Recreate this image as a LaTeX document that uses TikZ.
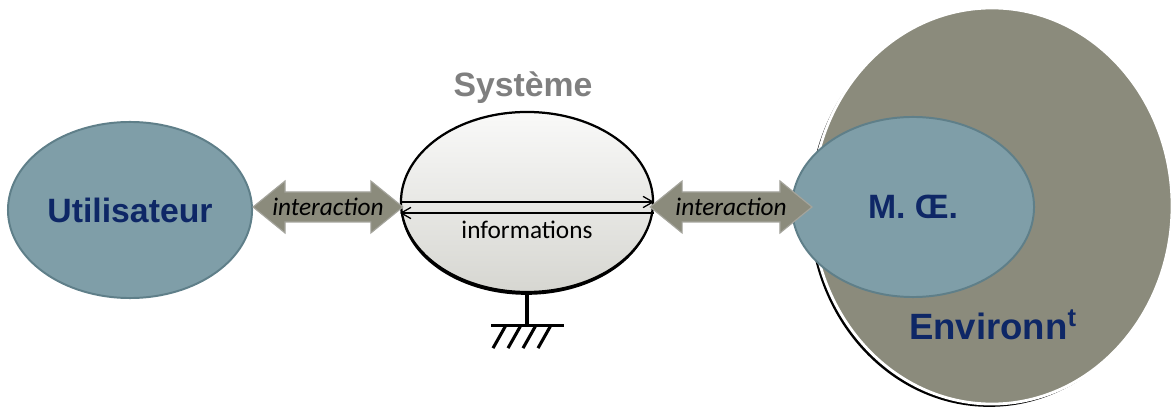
\documentclass[tikz,border=0pt]{standalone}
\usepackage{fontspec}
\setmainfont{Liberation Sans}
\newfontfamily\calibri{Carlito}
\usetikzlibrary{shapes.geometric, arrows.meta, shadows, calc, positioning}
\definecolor{bleuO}{HTML}{7F9EA8}
\definecolor{bordO}{HTML}{5F7F89}
\definecolor{marine}{HTML}{0E2766}
\definecolor{grisF}{HTML}{8B8B7C}
\definecolor{grisB}{HTML}{A4A49C}
\definecolor{grisT}{HTML}{7F7F7F}

\begin{document}
\begin{tikzpicture}[x=0.025cm, y=-0.025cm,
    oval/.style={ellipse, draw=bordO, line width=1.4pt, fill=bleuO, inner sep=0pt,
        text=marine, font=\fontsize{24}{28}\selectfont\bfseries},
    fleche/.style={draw=grisB, line width=0.8pt, fill=grisF, line join=miter},
    etiq/.style={font=\calibri\itshape\fontsize{18}{20}\selectfont},
    info/.style={line width=0.9pt, {Straight Barb[length=7pt, width=8pt]}-},
    masse/.style={line width=2.2pt}]
    \useasboundingbox (0,0) rectangle (1175,412);
    \coordinate (axe) at (0,207);

    % 左侧:用户
    \node[oval, minimum width=6.1cm, minimum height=4.4cm] (user) at (130,210) {Utilisateur};

    % 中间:系统
    \node[font=\fontsize{24}{28}\selectfont\bfseries, text=grisT] (titre) at (523,88) {Système};
    \node[ellipse, draw=black, line width=1.6pt, top color=white!95!grisF, bottom color=white!65!grisF,
        drop shadow={shadow xshift=-0.3pt, shadow yshift=-2pt, opacity=1, fill=black},
        minimum width=6.3cm, minimum height=4.5cm] (sys) at (527,202) {};
    \node[font=\calibri\fontsize{18}{20}\selectfont] (infos) at (527,230) {informations};

    % 接地
    \draw[masse] (sys.south) -- ++(0,32) coordinate (terre);
    \draw[masse] (terre) ++(-36,0) -- ++(73,0);
    \foreach \i in {0,...,3}
        \draw[masse] (terre) ++(-21+15*\i,0) -- ++(-13,23);

    % 右侧:环境
    \node[ellipse, draw=white, line width=2pt, fill=grisF,
        drop shadow={shadow xshift=-2pt, shadow yshift=-2pt, opacity=1, fill=black},
        minimum width=9cm, minimum height=9.9cm] (env) at (992,206) {};
    \node[oval, minimum width=6.05cm, minimum height=4.5cm] (moe) at (913,207) {M. Œ.};
    \node[text=marine, font=\fontsize{26}{30}\selectfont\bfseries] (envt) at (993,325) {Environn\textsuperscript{t}};

    % 交互箭头
    \coordinate (gA) at (user.east |- axe);
    \coordinate (gB) at ($(sys.west |- axe)+(3,0)$);
    \coordinate (dA) at ($(sys.east |- axe)+(-4,0)$);
    \coordinate (dB) at ($(moe.west |- axe)+(21,0)$);
    \foreach \a/\b in {gA/gB, dA/dB} {
        \draw[fleche] (\a) -- ($(\a)+(32,-26)$) -- ($(\a)+(32,-15)$) -- ($(\b)+(-32,-15)$)
            -- ($(\b)+(-32,-26)$) -- (\b) -- ($(\b)+(-32,26)$) -- ($(\b)+(-32,15)$)
            -- ($(\a)+(32,15)$) -- ($(\a)+(32,26)$) -- cycle;
        \node[etiq] (i\a) at ($(\a)!0.5!(\b)$) {interaction};
    }

    % 信息
    \draw[info] (sys.east) -- (sys.west);
    \draw[info] ([yshift=-0.275cm]sys.west) -- ([yshift=-0.275cm]sys.east);
\end{tikzpicture}
\end{document}
